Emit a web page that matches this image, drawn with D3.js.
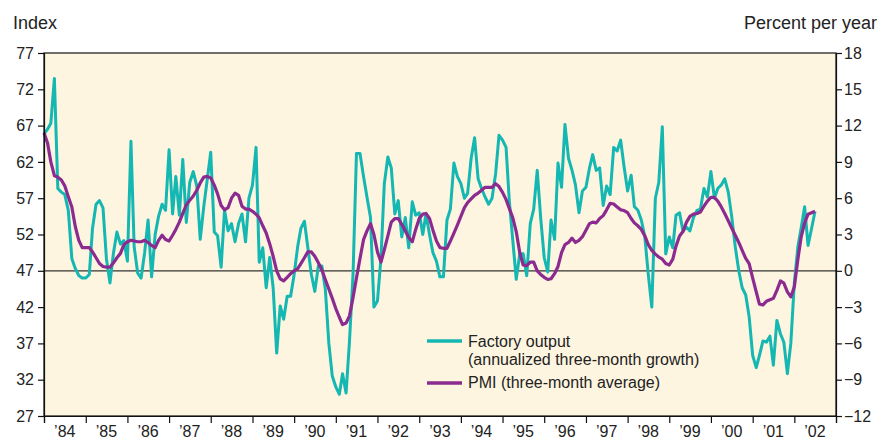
<!DOCTYPE html>
<html>
<head>
<meta charset="utf-8">
<script src="https://cdn.jsdelivr.net/npm/d3@7"></script>
<style>
  body { margin: 0; background: #fff; }
  text { font-family: "Liberation Sans", Arial, sans-serif; fill: #222; }
</style>
</head>
<body>
<div id="chart-area"></div>
<script>
/*
*    Factory output vs PMI, 1984-2002
*/

// year labels under the axis
var yearLabels = ["’84", "’85", "’86", "’87", "’88", "’89", "’90", "’91", "’92", "’93",
                  "’94", "’95", "’96", "’97", "’98", "’99", "’00", "’01", "’02"];

var leftTicks = [27, 32, 37, 42, 47, 52, 57, 62, 67, 72, 77];
var rightTicks = [-12, -9, -6, -3, 0, 3, 6, 9, 12, 15, 18];

// Factory output, annualized three-month growth (percent per year), monthly from Jan 1984
var output = [
    11.3, 11.7, 12.2, 15.9, 6.8, 6.5, 6.3, 5.0, 1.0, 0.2, -0.4, -0.6,
    -0.6, -0.3, 3.5, 5.5, 5.8, 5.2, 1.0, -1.0, 1.5, 3.2, 2.2, 2.5,
    0.8, 10.7, 2.0, -0.2, -0.6, 1.5, 4.2, -0.5, 3.0, 4.5, 5.5, 5.0,
    10.0, 4.7, 7.8, 4.6, 9.2, 4.0, 7.3, 8.2, 7.0, 2.6, 5.3, 7.5,
    9.8, 3.2, 2.9, 0.3, 5.0, 3.3, 3.9, 2.4, 3.9, 4.7, 2.4, 6.0,
    7.1, 10.2, 0.7, 1.9, -1.4, 1.1, -1.4, -6.8, -2.9, -4.0, -2.1, -2.1,
    -0.3, 2.0, 3.5, 4.1, 1.9, -0.3, -1.7, 0.4, 0.4, -1.5, -6.0, -8.7,
    -9.6, -10.2, -8.5, -10.1, -5.8, -0.3, 9.7, 9.7, 7.8, 6.1, 4.4, -3.0,
    -2.5, 1.1, 7.2, 9.4, 8.5, 4.7, 5.8, 2.8, 4.4, 1.9, 5.7, 4.6,
    4.8, 3.0, 4.7, 3.0, 1.5, 0.8, -0.5, -0.5, 4.2, 5.1, 8.9, 7.8,
    7.2, 6.0, 6.4, 9.3, 11.0, 7.6, 6.8, 6.1, 5.5, 6.0, 8.0, 11.2,
    10.8, 10.2, 5.8, 2.5, -0.7, 1.4, 1.4, -0.4, 3.9, 5.1, 8.3, 4.4,
    1.1, -0.1, 4.2, 2.6, 8.9, 6.9, 12.1, 9.3, 8.3, 7.1, 4.8, 6.6,
    6.9, 8.5, 9.6, 8.3, 8.5, 5.4, 7.0, 6.3, 10.2, 9.9, 10.8, 8.6,
    6.6, 7.9, 5.3, 5.0, 4.2, 2.8, -0.3, -3.0, 6.0, 7.3, 11.9, 1.4,
    2.8, 1.9, 4.6, 4.8, 3.3, 3.6, 3.3, 4.4, 5.0, 5.1, 6.8, 6.1,
    8.2, 6.0, 6.8, 7.1, 7.6, 6.5, 4.5, 2.0, 0.0, -1.4, -2.0, -3.8,
    -7.0, -8.0, -7.0, -5.8, -5.9, -5.4, -7.8, -4.1, -5.2, -5.9, -8.5, -6.0,
    -1.0, 2.0, 3.5, 5.3, 2.1, 3.5, 4.9
];

// PMI, three-month average (index), monthly from Jan 1984
var pmi = [
    66.0, 64.6, 62.0, 60.1, 59.9, 59.5, 58.7, 57.2, 55.8, 53.1, 51.2, 50.2,
    50.2, 50.2, 49.6, 48.8, 48.0, 47.6, 47.5, 47.5, 48.1, 48.8, 49.4, 50.6,
    51.0, 51.2, 51.1, 51.0, 51.0, 51.2, 50.9, 50.5, 50.2, 51.2, 51.9, 51.3,
    51.1, 51.9, 52.7, 53.7, 54.9, 56.1, 56.7, 57.3, 58.1, 59.1, 59.9, 60.0,
    59.8, 58.8, 57.6, 56.0, 55.4, 55.7, 57.0, 57.7, 57.4, 55.9, 55.5, 55.5,
    55.2, 54.8, 54.3, 53.2, 52.2, 50.7, 49.0, 47.0, 45.9, 45.6, 46.1, 46.6,
    47.0, 47.3, 48.0, 48.8, 49.6, 49.6, 49.0, 48.1, 47.1, 45.8, 44.5, 43.2,
    41.8, 40.6, 39.6, 39.8, 40.8, 43.3, 46.0, 48.7, 51.3, 52.5, 53.5, 52.0,
    49.6, 48.2, 49.9, 51.8, 53.7, 54.2, 54.2, 53.4, 52.5, 51.6, 51.0, 52.7,
    54.2, 54.8, 54.9, 54.2, 52.6, 51.1, 50.2, 50.1, 50.1, 51.1, 52.2, 53.3,
    54.5, 55.7, 56.4, 56.9, 57.4, 57.7, 58.1, 58.5, 58.5, 58.5, 59.0, 58.6,
    57.8, 56.8, 55.6, 54.3, 52.4, 49.5, 47.8, 47.7, 48.2, 48.2, 47.0, 46.5,
    46.1, 45.8, 45.9, 46.6, 47.6, 49.5, 50.6, 50.9, 51.5, 50.9, 51.2, 51.7,
    52.6, 53.5, 53.7, 53.6, 54.2, 54.6, 55.4, 56.3, 56.2, 55.8, 55.4, 55.3,
    55.0, 54.2, 53.6, 53.2, 52.7, 51.8, 50.6, 49.8, 49.3, 48.9, 48.6, 48.0,
    47.8, 48.6, 50.4, 51.8, 52.4, 53.7, 54.5, 54.8, 54.9, 55.1, 55.9, 56.6,
    57.1, 57.1, 56.6, 55.8, 54.9, 53.9, 52.9, 51.9, 50.9, 49.8, 48.7, 48.0,
    46.0, 44.1, 42.4, 42.3, 42.8, 43.0, 43.2, 44.3, 45.6, 45.3, 44.1, 43.4,
    44.8, 48.6, 51.6, 53.6, 54.8, 55.0, 55.2
];

var outputColor = "#14b7b1",
    pmiColor = "#8b2b8f";

var margin = { left: 44, right: 44, top: 53, bottom: 24 },
    width = 880 - margin.left - margin.right,
    height = 440 - margin.top - margin.bottom;

var svg = d3.select("#chart-area")
    .append("svg")
    .attr("width", 880)
    .attr("height", 440);

var g = svg.append("g")
    .attr("transform", "translate(" + margin.left + ", " + margin.top + ")");

var x = d3.scaleTime()
    .domain([new Date(1984, 0, 1), new Date(2003, 0, 1)])
    .range([0, width]);

var yLeft = d3.scaleLinear().domain([27, 77]).range([height, 0]);
var yRight = d3.scaleLinear().domain([-12, 18]).range([height, 0]);

function monthDate(i) { return new Date(1984, i, 1); }

// plot background
g.append("rect")
    .attr("width", width)
    .attr("height", height)
    .attr("fill", "#fef5e0");

// zero line (47 on the index side)
g.append("line")
    .attr("x1", 0).attr("x2", width)
    .attr("y1", yRight(0)).attr("y2", yRight(0))
    .attr("stroke", "#333")
    .attr("stroke-width", 1.3);

// series
var outputLine = d3.line()
    .x(function(d, i) { return x(monthDate(i)); })
    .y(function(d) { return yRight(d); });

var pmiLine = d3.line()
    .x(function(d, i) { return x(monthDate(i)); })
    .y(function(d) { return yLeft(d); });

g.append("path")
    .datum(output)
    .attr("fill", "none")
    .attr("stroke", outputColor)
    .attr("stroke-width", 3)
    .attr("stroke-linejoin", "round")
    .attr("d", outputLine);

g.append("path")
    .datum(pmi)
    .attr("fill", "none")
    .attr("stroke", pmiColor)
    .attr("stroke-width", 3.2)
    .attr("stroke-linejoin", "round")
    .attr("d", pmiLine);

// frame
g.append("rect")
    .attr("width", width)
    .attr("height", height)
    .attr("fill", "none")
    .attr("stroke", "#111")
    .attr("stroke-width", 1.2);

// axes
var leftAxis = d3.axisLeft(yLeft)
    .tickValues(leftTicks)
    .tickSize(6)
    .tickPadding(4);

var rightAxis = d3.axisRight(yRight)
    .tickValues(rightTicks)
    .tickSize(6)
    .tickPadding(2)
    .tickFormat(function(d) { return d < 0 ? "\u2212" + Math.abs(d) : d; });

var bottomAxis = d3.axisBottom(x)
    .ticks(d3.timeYear.every(1))
    .tickSize(7)
    .tickFormat("");

var gl = g.append("g").call(leftAxis);
var gr = g.append("g").attr("transform", "translate(" + width + ",0)").call(rightAxis);
var gb = g.append("g").attr("transform", "translate(0," + height + ")").call(bottomAxis);

[gl, gr, gb].forEach(function(a) {
    a.select(".domain").attr("stroke", "#111").attr("stroke-width", 1.2);
    a.selectAll(".tick line").attr("stroke", "#111").attr("stroke-width", 1.2);
    a.selectAll(".tick text")
        .attr("font-family", "Liberation Sans, Arial, sans-serif")
        .attr("font-size", 16)
        .attr("fill", "#222");
});

// year labels centred in each year
g.selectAll(".year-label")
    .data(yearLabels)
    .enter().append("text")
        .attr("class", "year-label")
        .attr("x", function(d, i) { return x(new Date(1984 + i, 6, 1)); })
        .attr("y", height + 21)
        .attr("text-anchor", "middle")
        .attr("font-size", 16)
        .text(function(d) { return d; });

// axis titles
svg.append("text")
    .attr("x", 13)
    .attr("y", 29)
    .attr("font-size", 18)
    .text("Index");

svg.append("text")
    .attr("x", 877)
    .attr("y", 29)
    .attr("text-anchor", "end")
    .attr("font-size", 18)
    .text("Percent per year");

// legend
var legend = g.append("g")
    .attr("transform", "translate(" + (427 - margin.left) + "," + (341 - margin.top) + ")");

legend.append("line")
    .attr("x1", 0).attr("x2", 35)
    .attr("stroke", outputColor).attr("stroke-width", 3.5);
legend.append("text")
    .attr("x", 41).attr("y", 6)
    .attr("font-size", 16)
    .text("Factory output");
legend.append("text")
    .attr("x", 41).attr("y", 24)
    .attr("font-size", 16)
    .text("(annualized three-month growth)");

legend.append("line")
    .attr("x1", 0).attr("x2", 35)
    .attr("y1", 42).attr("y2", 42)
    .attr("stroke", pmiColor).attr("stroke-width", 3.5);
legend.append("text")
    .attr("x", 41).attr("y", 47)
    .attr("font-size", 16)
    .text("PMI (three-month average)");
</script>
</body>
</html>
